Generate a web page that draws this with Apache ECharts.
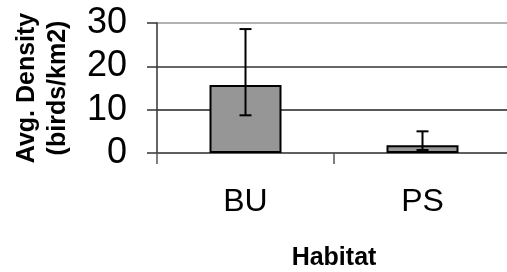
<!DOCTYPE html>
<html>
<head>
<meta charset="utf-8">
<script src="https://cdn.jsdelivr.net/npm/echarts@6/dist/echarts.min.js"></script>
<style>
html, body { margin: 0; padding: 0; background: #fff; }
#chart { width: 507px; height: 272px; }
</style>
</head>
<body>
<div id="chart"></div>
<script>
// habitats and average density
var habitats = ['BU', 'PS'];
var density = [15.7, 1.8];
// error bar ends
var errLow = [8.7, 0.7];
var errHigh = [28.6, 5.0];
var yTicks = [0, 10, 20, 30];

var font = "'Liberation Sans', Arial, sans-serif";

var errData = habitats.map(function (h, i) {
    return [i, errLow[i], errHigh[i]];
});

var chart = echarts.init(document.getElementById('chart'));
chart.setOption({
    animation: false,
    grid: {
        left: 157,
        top: 23,
        width: 354,
        height: 130,
        containLabel: false,
        outerBoundsMode: 'none'
    },
    xAxis: {
        type: 'category',
        data: habitats,
        name: 'Habitat',
        nameLocation: 'middle',
        nameGap: 93,
        nameTextStyle: { fontFamily: font, fontSize: 25, fontWeight: 'bold', color: '#000' },
        axisLine: { lineStyle: { color: '#555', width: 1.5 } },
        axisTick: { show: true, length: 11, lineStyle: { color: '#555', width: 1.5 } },
        axisLabel: { fontFamily: font, fontSize: 32, color: '#000', margin: 33 }
    },
    yAxis: {
        type: 'value',
        min: yTicks[0],
        max: yTicks[yTicks.length - 1],
        interval: 10,
        name: 'Avg. Density\n(birds/km2)',
        nameLocation: 'middle',
        nameGap: 83,
        nameTextStyle: { fontFamily: font, fontSize: 25, fontWeight: 'bold', color: '#000', lineHeight: 31 },
        axisLine: { show: true, lineStyle: { color: '#333', width: 1.5 } },
        axisTick: { show: true, length: 10, lineStyle: { color: '#333', width: 1.5 } },
        axisLabel: { fontFamily: font, fontSize: 36, color: '#000', margin: 30 },
        splitLine: { show: true, lineStyle: { color: ['#555', '#222', '#333', '#999'], width: 1.5 } }
    },
    series: [
        {
            type: 'bar',
            data: density,
            barWidth: 72,
            itemStyle: { color: '#969696', borderColor: '#000', borderWidth: 2 }
        },
        {
            type: 'custom',
            data: errData,
            clip: false,
            z: 5,
            renderItem: function (params, api) {
                var lo = api.coord([api.value(0), api.value(1)]);
                var hi = api.coord([api.value(0), api.value(2)]);
                var half = 6;
                var st = { stroke: '#000', lineWidth: 2 };
                return {
                    type: 'group',
                    children: [
                        { type: 'line', shape: { x1: hi[0], y1: hi[1], x2: lo[0], y2: lo[1] }, style: st },
                        { type: 'line', shape: { x1: hi[0] - half, y1: hi[1], x2: hi[0] + half, y2: hi[1] }, style: st },
                        { type: 'line', shape: { x1: lo[0] - half, y1: lo[1], x2: lo[0] + half, y2: lo[1] }, style: st }
                    ]
                };
            }
        }
    ]
});
</script>
</body>
</html>
